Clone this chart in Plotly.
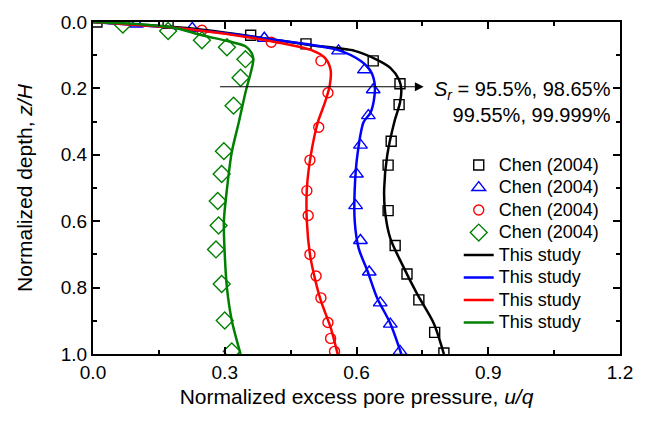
import plotly.graph_objects as go

# ---- Experimental data (Chen 2004) ----
sq_u = [0.009, 0.171, 0.359, 0.485, 0.638, 0.699, 0.697, 0.679, 0.672, 0.672, 0.688, 0.715, 0.742, 0.778, 0.799]
sq_z = [0.0, 0.004, 0.040, 0.066, 0.117, 0.186, 0.249, 0.359, 0.431, 0.568, 0.673, 0.759, 0.837, 0.935, 0.997]

tri_u = [0.099, 0.226, 0.390, 0.559, 0.618, 0.638, 0.627, 0.609, 0.600, 0.598, 0.609, 0.629, 0.654, 0.677, 0.699]
tri_z = [0.006, 0.019, 0.049, 0.087, 0.144, 0.204, 0.282, 0.371, 0.458, 0.553, 0.658, 0.753, 0.846, 0.910, 0.992]

cir_u = [0.248, 0.406, 0.519, 0.535, 0.514, 0.494, 0.487, 0.490, 0.494, 0.508, 0.519, 0.535, 0.541, 0.550]
cir_z = [0.025, 0.061, 0.117, 0.213, 0.317, 0.416, 0.508, 0.583, 0.700, 0.765, 0.831, 0.905, 0.953, 0.992]

dia_u = [0.068, 0.171, 0.248, 0.305, 0.347, 0.336, 0.320, 0.298, 0.293, 0.284, 0.286, 0.280, 0.293, 0.300, 0.316]
dia_z = [0.008, 0.027, 0.055, 0.076, 0.112, 0.168, 0.252, 0.389, 0.458, 0.539, 0.613, 0.685, 0.789, 0.899, 0.992]

# ---- This study (model curves) ----
blk_u = [0.0, 0.219, 0.422, 0.496, 0.596, 0.647, 0.677, 0.697, 0.702, 0.699, 0.686, 0.670, 0.663, 0.665, 0.677, 0.704, 0.738, 0.776, 0.799]
blk_z = [0.0, 0.019, 0.055, 0.070, 0.087, 0.114, 0.138, 0.174, 0.204, 0.243, 0.302, 0.401, 0.502, 0.571, 0.652, 0.730, 0.819, 0.908, 1.0]

blu_u = [0.0, 0.219, 0.422, 0.557, 0.609, 0.632, 0.641, 0.641, 0.632, 0.616, 0.602, 0.596, 0.596, 0.605, 0.625, 0.647, 0.677, 0.702]
blu_z = [0.0, 0.022, 0.055, 0.084, 0.117, 0.147, 0.183, 0.222, 0.273, 0.302, 0.401, 0.502, 0.601, 0.682, 0.750, 0.831, 0.908, 1.0]

red_u = [0.0, 0.219, 0.406, 0.496, 0.528, 0.541, 0.539, 0.528, 0.512, 0.496, 0.487, 0.487, 0.494, 0.505, 0.519, 0.541, 0.557]
red_z = [0.0, 0.022, 0.058, 0.084, 0.108, 0.144, 0.192, 0.243, 0.302, 0.401, 0.502, 0.601, 0.700, 0.771, 0.840, 0.920, 1.0]

grn_u = [0.0, 0.106, 0.189, 0.248, 0.309, 0.347, 0.361, 0.365, 0.347, 0.332, 0.316, 0.305, 0.298, 0.300, 0.305, 0.316, 0.336]
grn_z = [0.0, 0.007, 0.019, 0.040, 0.058, 0.073, 0.093, 0.114, 0.213, 0.302, 0.392, 0.503, 0.601, 0.700, 0.801, 0.899, 1.0]

x_ticks = [0.0, 0.3, 0.6, 0.9, 1.2]
y_ticks = [0.0, 0.2, 0.4, 0.6, 0.8, 1.0]

FONT = "Liberation Sans, Arial, sans-serif"


def big(name):
    return f'<span style="font-size:18px">{name}</span>'


fig = go.Figure()

markers = [
    (sq_u, sq_z, "square-open", "black", 10),
    (tri_u, tri_z, "triangle-up-open", "blue", 12),
    (cir_u, cir_z, "circle-open", "red", 10),
    (dia_u, dia_z, "diamond-open", "green", 13),
]
for u, z, sym, col, sz in markers:
    fig.add_trace(go.Scatter(
        x=u, y=z, mode="markers", name=big("Chen (2004)"),
        marker=dict(symbol=sym, color=col, size=sz, line=dict(width=1.4, color=col)),
    ))

lines = [
    (blk_u, blk_z, "black"),
    (blu_u, blu_z, "blue"),
    (red_u, red_z, "red"),
    (grn_u, grn_z, "green"),
]
for u, z, col in lines:
    fig.add_trace(go.Scatter(
        x=u, y=z, mode="lines", name=big("This study"),
        line=dict(color=col, width=2.5, shape="spline", smoothing=0.8),
    ))

# arrow
fig.add_annotation(
    x=0.753, y=0.195, ax=0.286, ay=0.195, xref="x", yref="y", axref="x", ayref="y",
    showarrow=True, arrowhead=2, arrowsize=1.6, arrowwidth=1.1, arrowcolor="black", text="",
)
fig.add_annotation(
    x=1.185, y=0.241, xref="x", yref="y", xanchor="right", yanchor="middle", align="right",
    showarrow=False,
    text="<i>S<sub>r</sub></i> = 95.5%, 98.65%<br>99.55%, 99.999%",
    font=dict(family=FONT, size=20, color="black"),
)

axis_common = dict(
    showline=True, linecolor="black", linewidth=2, mirror="ticks",
    ticks="inside", ticklen=7, tickwidth=1.5, tickcolor="black",
    showgrid=False, zeroline=False,
    tickfont=dict(family=FONT, size=19, color="black"),
)

fig.update_xaxes(
    range=[0, 1.2], tickvals=x_ticks, ticktext=[f"{v:.1f}" for v in x_ticks],
    minor=dict(tickvals=[0.15, 0.45, 0.75, 1.05], ticks="inside", ticklen=4, tickwidth=1.5, tickcolor="black"),
    title=dict(text="Normalized excess pore pressure, <i>u/q</i>", font=dict(family=FONT, size=21, color="black"), standoff=8),
    **axis_common,
)
fig.update_yaxes(
    range=[1, 0], tickvals=y_ticks, ticktext=[f"{v:.1f}" for v in y_ticks],
    minor=dict(tickvals=[0.1, 0.3, 0.5, 0.7, 0.9], ticks="inside", ticklen=4, tickwidth=1.5, tickcolor="black"),
    title=dict(text="Normalized depth, <i>z/H</i>", font=dict(family=FONT, size=21, color="black"), standoff=22),
    **axis_common,
)

fig.update_layout(
    width=645, height=425,
    margin=dict(l=93, r=20, t=19, b=71),
    plot_bgcolor="white", paper_bgcolor="white",
    showlegend=True,
    legend=dict(
        x=0.694, y=0.618, xanchor="left", yanchor="top",
        bgcolor="rgba(0,0,0,0)", borderwidth=0,
        font=dict(family=FONT, size=15, color="black"),
        tracegroupgap=0, itemwidth=30,
    ),
    font=dict(family=FONT, color="black"),
)

fig.write_html("out.html")
